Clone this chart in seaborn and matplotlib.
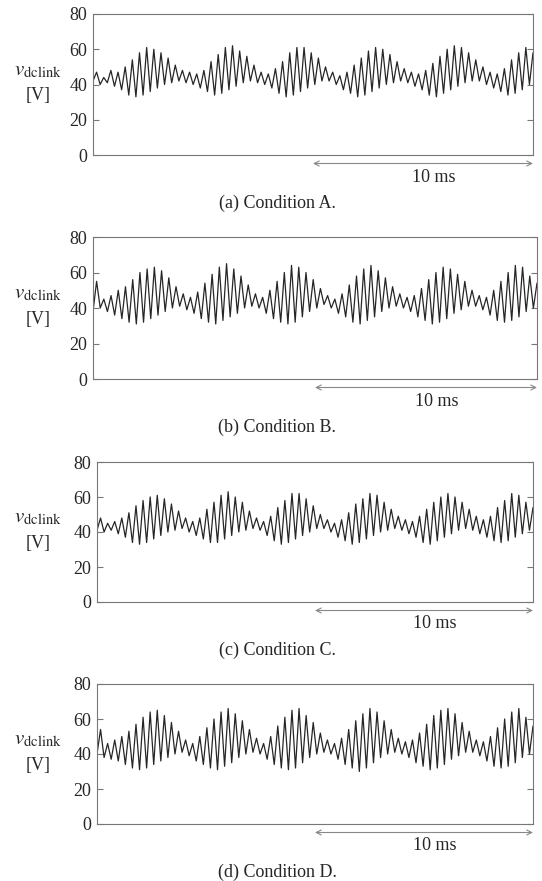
import numpy as np
import pandas as pd
import matplotlib
matplotlib.use("Agg")
import matplotlib.pyplot as plt
import seaborn as sns

# DC-link voltage, successive troughs and peaks of the ripple over a 20 ms window [V]
peaks_a = [47, 44, 48, 47, 50, 54, 58, 61, 60, 58,
           55, 51, 48, 47, 46, 48, 53, 57, 61, 62,
           59, 56, 51, 47, 46, 49, 53, 58, 61, 61,
           58, 55, 50, 47, 45, 47, 51, 55, 59, 61,
           60, 57, 53, 49, 47, 46, 48, 52, 56, 60,
           62, 61, 58, 54, 50, 47, 46, 49, 54, 58,
           61, 58]
troughs_a = [42, 40, 41, 39, 37, 34, 33, 34, 36, 38,
             40, 41, 42, 41, 40, 38, 36, 34, 35, 37,
             39, 41, 42, 41, 40, 38, 35, 33, 34, 36,
             38, 40, 42, 42, 40, 37, 35, 33, 34, 36,
             38, 40, 41, 42, 41, 39, 37, 34, 33, 35,
             37, 39, 41, 42, 42, 40, 38, 36, 34, 35,
             37, 40]

peaks_b = [55, 45, 47, 50, 52, 56, 60, 62, 63, 61,
           57, 52, 48, 46, 49, 54, 59, 63, 65, 62,
           58, 53, 48, 46, 50, 55, 60, 64, 63, 60,
           56, 51, 47, 45, 48, 53, 58, 62, 64, 61,
           57, 52, 48, 46, 47, 51, 56, 60, 63, 62,
           59, 55, 50, 47, 46, 50, 55, 60, 64, 63,
           58, 54]
troughs_b = [38, 40, 38, 36, 34, 32, 31, 32, 34, 36,
             38, 40, 41, 39, 37, 34, 32, 31, 33, 35,
             37, 40, 41, 40, 37, 34, 32, 31, 32, 35,
             38, 40, 42, 40, 37, 35, 32, 31, 33, 35,
             38, 40, 41, 40, 38, 35, 33, 31, 32, 34,
             37, 39, 41, 41, 39, 36, 33, 32, 33, 35,
             38, 40]

peaks_c = [48, 45, 46, 48, 51, 55, 58, 60, 61, 59,
           56, 52, 48, 46, 48, 53, 57, 61, 63, 60,
           57, 52, 48, 46, 49, 54, 58, 62, 62, 59,
           55, 50, 47, 45, 47, 51, 56, 59, 62, 61,
           57, 53, 49, 47, 46, 49, 53, 57, 60, 62,
           60, 57, 53, 49, 47, 49, 54, 58, 62, 61,
           57, 54]
troughs_c = [41, 40, 41, 39, 37, 34, 33, 34, 36, 38,
             40, 41, 42, 40, 38, 36, 34, 34, 36, 38,
             40, 41, 42, 41, 38, 35, 33, 34, 36, 38,
             40, 42, 42, 40, 37, 35, 33, 34, 36, 38,
             40, 41, 42, 41, 39, 37, 34, 33, 35, 37,
             39, 41, 42, 41, 39, 37, 35, 34, 35, 37,
             39, 41]

peaks_d = [54, 46, 48, 50, 53, 57, 61, 64, 65, 62,
           58, 53, 48, 46, 50, 55, 60, 64, 66, 63,
           59, 54, 49, 46, 50, 56, 61, 65, 66, 62,
           58, 52, 48, 46, 49, 54, 59, 63, 66, 64,
           59, 54, 49, 47, 48, 52, 57, 62, 65, 66,
           63, 58, 53, 48, 47, 50, 55, 60, 64, 66,
           61, 56]
troughs_d = [40, 38, 37, 36, 34, 32, 31, 32, 34, 36,
             38, 40, 41, 39, 36, 34, 32, 31, 33, 35,
             38, 40, 41, 40, 37, 34, 32, 31, 32, 35,
             38, 40, 41, 40, 37, 34, 32, 30, 32, 35,
             38, 40, 41, 40, 38, 35, 33, 31, 32, 34,
             37, 39, 41, 41, 39, 36, 33, 32, 33, 35,
             38, 40]

captions = ["(a) Condition A.", "(b) Condition B.", "(c) Condition C.", "(d) Condition D."]
y_ticks = [0, 20, 40, 60, 80]
window_ms = 20
scale_ms = 10

series = [(troughs_a, peaks_a), (troughs_b, peaks_b),
          (troughs_c, peaks_c), (troughs_d, peaks_d)]

sns.set_theme(style="white")
plt.rcParams["font.family"] = ["Liberation Serif", "DejaVu Serif"]
plt.rcParams["mathtext.fontset"] = "stix"

W, H = 542, 881
fig = plt.figure(figsize=(W / 100, H / 100), dpi=100)

# panel boxes in pixels: left, right, top, bottom
boxes = [(93, 533, 14, 155), (93, 537, 237, 379), (97, 533, 462, 602), (97, 533, 684, 824)]

for (troughs, peaks), cap, (l, r, t, b) in zip(series, captions, boxes):
    n = min(len(troughs), len(peaks))
    v = np.column_stack([troughs[:n], peaks[:n]]).ravel()
    df = pd.DataFrame({"t": np.linspace(0, window_ms, len(v)), "v": v})

    ax = fig.add_axes([l / W, 1 - b / H, (r - l) / W, (b - t) / H])
    sns.lineplot(data=df, x="t", y="v", ax=ax, color="#262626", lw=0.9,
                 estimator=None, sort=False)
    ax.set_xlim(0, window_ms)
    ax.set_ylim(0, 80)
    ax.set_yticks(y_ticks)
    ax.set_xticks([])
    ax.set_xlabel("")
    ax.set_ylabel("")
    ax.tick_params(axis="y", direction="in", length=4, width=0.8, color="#777",
                   left=True, right=True, labelleft=True, labelsize=13, pad=4)
    for sp in ax.spines.values():
        sp.set_visible(True)
        sp.set_color("#777")
        sp.set_linewidth(0.8)

    hpx = b - t
    # y-axis label
    xc = (38 - l) / (r - l)
    ax.text(xc, 0.60, r"$v_{\mathrm{dclink}}$", transform=ax.transAxes,
            ha="center", va="center", fontsize=15)
    ax.text(xc, 0.42, "[V]", transform=ax.transAxes,
            ha="center", va="center", fontsize=13)

    # time scale bar
    ya = -8.5 / hpx
    ax.annotate("", xy=(window_ms, ya), xytext=(window_ms - scale_ms, ya),
                xycoords=("data", "axes fraction"), textcoords=("data", "axes fraction"),
                annotation_clip=False,
                arrowprops=dict(arrowstyle="<->", color="#888", lw=0.8,
                                shrinkA=0, shrinkB=0, mutation_scale=9))
    ax.text(15.5, -22 / hpx, f"{scale_ms} ms", transform=ax.get_xaxis_transform(),
            ha="center", va="center", fontsize=13)

    fig.text(277 / W, 1 - (b + 48) / H, cap, ha="center", va="center", fontsize=13)

fig.savefig("out.png", dpi=100)
